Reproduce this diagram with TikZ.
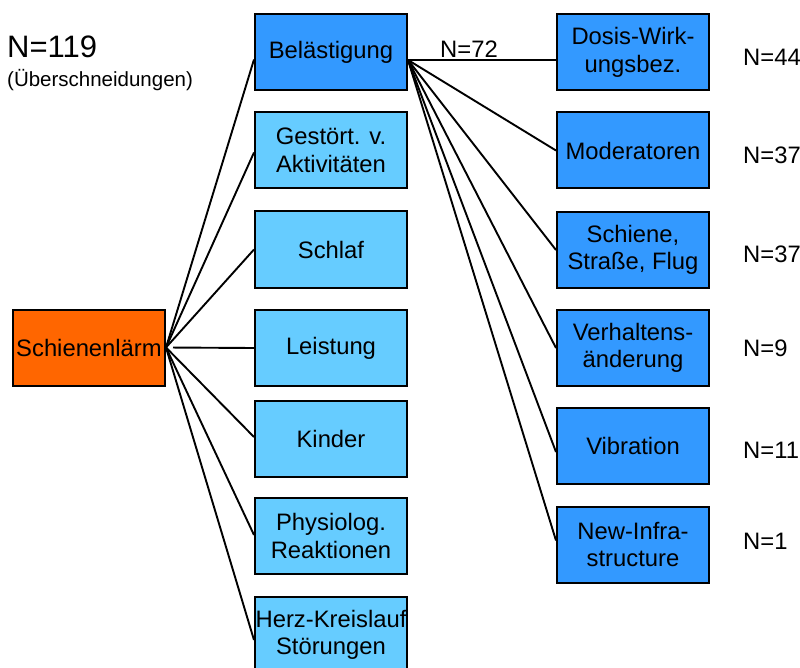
\documentclass[tikz,border=0pt]{standalone}
\usepackage{fontspec}
\setmainfont{Liberation Sans}
\definecolor{orangebox}{HTML}{FF6600}
\definecolor{lightbox}{HTML}{66CCFF}
\definecolor{darkbox}{HTML}{3399FF}
\begin{document}
\begin{tikzpicture}[x=1pt,y=-1pt,
  box/.style={draw=black,line width=2pt,minimum width=152pt,minimum height=76pt,
    inner sep=0pt,align=center,font=\fontsize{23.8}{27.5}\selectfont},
  rootbox/.style={box,fill=orangebox},
  subbox/.style={box,fill=lightbox},
  topicbox/.style={box,fill=darkbox},
  count/.style={anchor=west,inner sep=0pt,font=\fontsize{23.8}{27.5}\selectfont},
  link/.style={line width=1.9pt}]
\useasboundingbox (0,0) rectangle (800,668);

% root
\node[rootbox] (root) at (89,347.5) {Schienenlärm};

% second level
\node[topicbox] (bel) at (331,52.5) {Belästigung};
\node[subbox] (akt) at (331,150.5) {Gestört. v.\\Aktivitäten};
\node[subbox] (schlaf) at (331,249.5) {Schlaf};
\node[subbox] (leist) at (331,348) {Leistung};
\node[subbox] (kind) at (331,439) {Kinder};
\node[subbox] (phys) at (331,536) {Physiolog.\\Reaktionen};
\node[subbox] (herz) at (331,635) {Herz-Kreislauf\\Störungen};

% third level
\node[topicbox] (dosis) at (633,52.5) {Dosis-Wirk-\\ungsbez.};
\node[topicbox] (mod) at (633,150.5) {Moderatoren};
\node[topicbox] (quel) at (633,250) {Schiene,\\Straße, Flug};
\node[topicbox] (verh) at (633,348) {Verhaltens-\\änderung};
\node[topicbox] (vib) at (633,446) {Vibration};
\node[topicbox] (infra) at (633,544.5) {New-Infra-\\structure};

% counts
\node[anchor=west,inner sep=0pt,font=\fontsize{31}{34}\selectfont] (ntot) at (7,47) {N=119};
\node[anchor=west,inner sep=0pt,font=\fontsize{20.5}{24}\selectfont] (nnote) at (7,80) {(Überschneidungen)};
\node[anchor=west,inner sep=0pt,font=\fontsize{23.8}{27.5}\selectfont] (nbel) at (440,49) {N=72};
\node[count] (ndos) at (743,57) {N=44};
\node[count] (nmod) at (743,155) {N=37};
\node[count] (nquel) at (743,254) {N=37};
\node[count] (nverh) at (743,348) {N=9};
\node[count] (nvib) at (743,450) {N=11};
\node[count] (ninfra) at (743,541) {N=1};

% connectors from the root
\draw[link] (root.east) -- ([yshift=-7pt]bel.west);
\draw[link] (root.east) -- ([yshift=-2pt]akt.west);
\draw[link] (root.east) -- (schlaf.west);
\draw[link,shorten <=7pt] (root.east) -- (leist.west);
\draw[link] (root.east) -- ([yshift=2pt]kind.west);
\draw[link] (root.east) -- ([yshift=1pt]phys.west);
\draw[link] (root.east) -- ([yshift=-5pt]herz.west);

% connectors from Belästigung
\draw[link] ([yshift=-7.5pt]bel.east) -- ([yshift=-7.5pt]dosis.west);
\draw[link] ([yshift=-7.5pt]bel.east) -- (mod.west);
\draw[link] ([yshift=-7.5pt]bel.east) -- (quel.west);
\draw[link] ([yshift=-7.5pt]bel.east) -- (verh.west);
\draw[link] ([yshift=-7.5pt]bel.east) -- ([yshift=-6pt]vib.west);
\draw[link] ([yshift=-7.5pt]bel.east) -- ([yshift=4pt]infra.west);
\end{tikzpicture}
\end{document}
